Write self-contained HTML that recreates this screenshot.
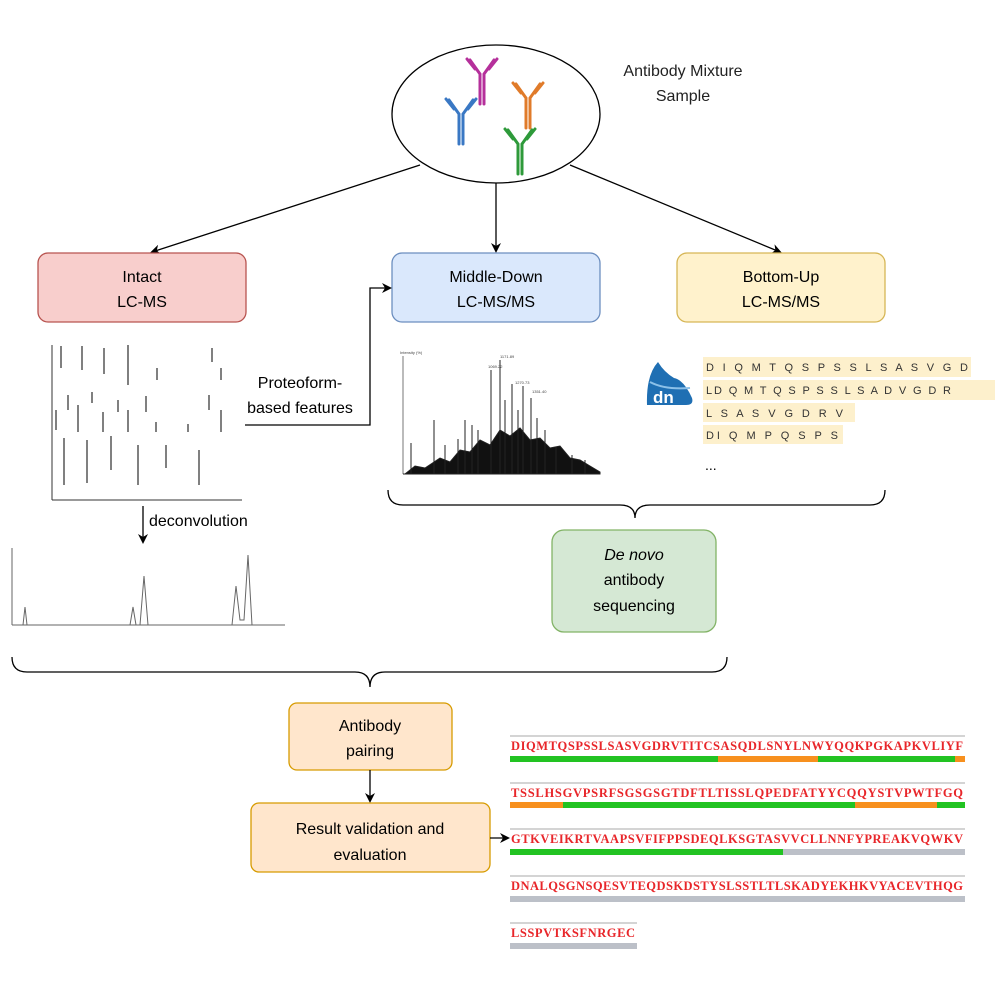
<!DOCTYPE html>
<html><head><meta charset="utf-8"><style>
html,body{margin:0;padding:0;background:#fff}
svg{display:block}
text{font-family:"Liberation Sans",Arial,sans-serif}
.seq{font-family:"Liberation Serif",serif;font-weight:bold;fill:#e8262a;font-size:12.5px}
</style></head><body>
<svg width="996" height="996" viewBox="0 0 996 996" xmlns="http://www.w3.org/2000/svg">
<defs>
<marker id="ah" markerWidth="10" markerHeight="10" refX="8" refY="5" orient="auto" markerUnits="userSpaceOnUse">
<path d="M0,0 L10,5 L0,10 L3,5 Z" fill="#000"/></marker>
<g id="ab" fill="none" stroke-width="3" stroke-linecap="round">
<path d="M-2,2 V32 M2,2 V32 M-2,2 L-12,-12 M2,2 L12,-12 M-7,-3 L-15,-13 M7,-3 L15,-13"/>
</g>
</defs>

<ellipse cx="496" cy="114" rx="104" ry="69" fill="#fff" stroke="#000" stroke-width="1.3"/>
<use href="#ab" transform="translate(482,72)" stroke="#b5309b"/>
<use href="#ab" transform="translate(528,96)" stroke="#e07b2a"/>
<use href="#ab" transform="translate(461,112)" stroke="#3a78c4"/>
<use href="#ab" transform="translate(520,142)" stroke="#2e9a3a"/>
<text x="683" y="76" font-size="16" text-anchor="middle" fill="#222">Antibody Mixture</text>
<text x="683" y="101" font-size="16" text-anchor="middle" fill="#222">Sample</text>

<line x1="420" y1="165" x2="152" y2="252" stroke="#000" stroke-width="1.3" marker-end="url(#ah)"/>
<line x1="496" y1="183" x2="496" y2="251" stroke="#000" stroke-width="1.3" marker-end="url(#ah)"/>
<line x1="570" y1="165" x2="780" y2="252" stroke="#000" stroke-width="1.3" marker-end="url(#ah)"/>

<rect x="38" y="253" width="208" height="69" rx="10" fill="#f8cecc" stroke="#b85450" stroke-width="1.3"/>
<text x="142" y="282" font-size="16" text-anchor="middle">Intact</text>
<text x="142" y="307" font-size="16" text-anchor="middle">LC-MS</text>
<rect x="392" y="253" width="208" height="69" rx="10" fill="#dae8fc" stroke="#6c8ebf" stroke-width="1.3"/>
<text x="496" y="282" font-size="16" text-anchor="middle">Middle-Down</text>
<text x="496" y="307" font-size="16" text-anchor="middle">LC-MS/MS</text>
<rect x="677" y="253" width="208" height="69" rx="10" fill="#fff2cc" stroke="#d6b656" stroke-width="1.3"/>
<text x="781" y="282" font-size="16" text-anchor="middle">Bottom-Up</text>
<text x="781" y="307" font-size="16" text-anchor="middle">LC-MS/MS</text>

<g stroke="#555" stroke-width="1.5">
<line x1="52" y1="345" x2="52" y2="500" stroke="#333" stroke-width="1"/>
<line x1="52" y1="500" x2="242" y2="500" stroke="#333" stroke-width="1"/>
<line x1="61" y1="346" x2="61" y2="368"/><line x1="82" y1="346" x2="82" y2="370"/><line x1="104" y1="348" x2="104" y2="374"/><line x1="128" y1="345" x2="128" y2="385"/>
<line x1="157" y1="368" x2="157" y2="380"/><line x1="212" y1="348" x2="212" y2="362"/><line x1="221" y1="368" x2="221" y2="380"/>
<line x1="68" y1="395" x2="68" y2="410"/><line x1="92" y1="392" x2="92" y2="403"/><line x1="118" y1="400" x2="118" y2="412"/><line x1="146" y1="396" x2="146" y2="412"/><line x1="209" y1="395" x2="209" y2="410"/>
<line x1="56" y1="410" x2="56" y2="430"/><line x1="78" y1="405" x2="78" y2="432"/><line x1="103" y1="412" x2="103" y2="432"/><line x1="128" y1="410" x2="128" y2="432"/><line x1="156" y1="422" x2="156" y2="432"/><line x1="188" y1="424" x2="188" y2="432"/><line x1="221" y1="410" x2="221" y2="432"/>
<line x1="64" y1="438" x2="64" y2="485"/><line x1="87" y1="440" x2="87" y2="483"/><line x1="111" y1="436" x2="111" y2="470"/><line x1="138" y1="445" x2="138" y2="485"/><line x1="166" y1="445" x2="166" y2="468"/><line x1="199" y1="450" x2="199" y2="485"/>
</g>

<path d="M245,425 H370 V288 H390" fill="none" stroke="#000" stroke-width="1.3" marker-end="url(#ah)"/>
<text x="300" y="388" font-size="16" text-anchor="middle">Proteoform-</text>
<text x="300" y="413" font-size="16" text-anchor="middle">based features</text>

<line x1="143" y1="506" x2="143" y2="542" stroke="#000" stroke-width="1.3" marker-end="url(#ah)"/>
<text x="149" y="526" font-size="16">deconvolution</text>

<g stroke="#666" stroke-width="1" fill="none">
<line x1="12" y1="548" x2="12" y2="625"/><line x1="12" y1="625" x2="285" y2="625"/>
<path d="M20,625 L23,625 L25,607 L27,625 Z"/>
<path d="M130,625 L133,607 L136,625 L140,625 L144,576 L148,625"/>
<path d="M232,625 L236,586 L240,620 L244,620 L248,555 L252,625"/>
</g>

<g stroke="#222" stroke-width="1">
<line x1="403" y1="356" x2="403" y2="474" stroke="#777"/>
<line x1="403" y1="474" x2="600" y2="474"/>
<polygon points="405,474 415,466 425,468 440,458 450,462 460,450 470,452 480,440 490,445 500,430 510,436 520,428 530,440 540,438 550,448 560,446 570,458 580,460 590,466 600,472 600,474" fill="#111"/>
<line x1="434" y1="420" x2="434" y2="474"/><line x1="411" y1="443" x2="411" y2="474"/><line x1="458" y1="439" x2="458" y2="474"/><line x1="465" y1="420" x2="465" y2="474"/><line x1="445" y1="445" x2="445" y2="474"/><line x1="472" y1="425" x2="472" y2="474"/><line x1="478" y1="430" x2="478" y2="474"/>
<line x1="491" y1="370" x2="491" y2="474"/><line x1="500" y1="360" x2="500" y2="474"/><line x1="505" y1="400" x2="505" y2="474"/><line x1="512" y1="384" x2="512" y2="474"/><line x1="523" y1="386" x2="523" y2="474"/><line x1="518" y1="410" x2="518" y2="474"/>
<line x1="531" y1="398" x2="531" y2="474"/><line x1="537" y1="418" x2="537" y2="474"/><line x1="545" y1="430" x2="545" y2="474"/><line x1="556" y1="447" x2="556" y2="474"/><line x1="572" y1="455" x2="572" y2="474"/><line x1="585" y1="460" x2="585" y2="474"/>
</g>
<g font-size="4" fill="#444"><text x="400" y="354">Intensity (%)</text><text x="488" y="368">1069.22</text><text x="500" y="358">1171.89</text><text x="515" y="384">1270.73</text><text x="532" y="393">1351.40</text></g>

<path d="M647,405 Q646,375 658,362 Q664,372 674,378 Q684,380 692,398 Q694,405 686,405 Z" fill="#1f6fb3"/>
<path d="M650,382 Q665,390 690,388" stroke="#8cc0e8" stroke-width="2" fill="none"/>
<text x="653" y="403" font-size="17" font-weight="bold" fill="#fff">dn</text>

<g>
<rect x="703" y="357" width="268" height="20" fill="#fdf0cc"/>
<rect x="703" y="380" width="292" height="20" fill="#fdf0cc"/>
<rect x="703" y="403" width="152" height="19" fill="#fdf0cc"/>
<rect x="703" y="425" width="140" height="19" fill="#fdf0cc"/>
<g font-family="Liberation Serif,serif" font-size="11" fill="#333">
<text x="706" y="371" textLength="262" lengthAdjust="spacing">D I Q M T Q S P S S L S A S V G D</text>
<text x="706" y="394" textLength="245" lengthAdjust="spacing">LD Q M T Q S P S S L S A D V G D R</text>
<text x="706" y="417" textLength="137" lengthAdjust="spacing">L S A S V G D R V</text>
<text x="706" y="439" textLength="132" lengthAdjust="spacing">DI Q M P Q S P S</text>
</g>
<text x="705" y="470" font-size="14">...</text>
</g>

<path d="M388,490 Q388,505 403,505 H620 Q635,505 635,518 Q635,505 650,505 H870 Q885,505 885,490" fill="none" stroke="#000" stroke-width="1.3"/>
<rect x="552" y="530" width="164" height="102" rx="12" fill="#d5e8d4" stroke="#82b366" stroke-width="1.3"/>
<text x="634" y="560" font-size="16" text-anchor="middle" font-style="italic">De novo</text>
<text x="634" y="585" font-size="16" text-anchor="middle">antibody</text>
<text x="634" y="611" font-size="16" text-anchor="middle">sequencing</text>

<path d="M12,657 Q12,672 27,672 H355 Q370,672 370,687 Q370,672 385,672 H712 Q727,672 727,657" fill="none" stroke="#000" stroke-width="1.3"/>

<rect x="289" y="703" width="163" height="67" rx="8" fill="#ffe6cc" stroke="#d79b00" stroke-width="1.3"/>
<text x="370" y="731" font-size="16" text-anchor="middle">Antibody</text>
<text x="370" y="756" font-size="16" text-anchor="middle">pairing</text>
<line x1="370" y1="770" x2="370" y2="801" stroke="#000" stroke-width="1.3" marker-end="url(#ah)"/>
<rect x="251" y="803" width="239" height="69" rx="8" fill="#ffe6cc" stroke="#d79b00" stroke-width="1.3"/>
<text x="370" y="834" font-size="16" text-anchor="middle">Result validation and</text>
<text x="370" y="860" font-size="16" text-anchor="middle">evaluation</text>
<line x1="490" y1="838" x2="508" y2="838" stroke="#000" stroke-width="1.3" marker-end="url(#ah)"/>

<g stroke="#aaa" stroke-width="1">
<line x1="510" y1="736" x2="965" y2="736"/><line x1="510" y1="783" x2="965" y2="783"/><line x1="510" y1="829" x2="965" y2="829"/><line x1="510" y1="876" x2="965" y2="876"/><line x1="510" y1="923" x2="637" y2="923"/>
</g>
<text class="seq" x="511" y="750" textLength="452" lengthAdjust="spacing">DIQMTQSPSSLSASVGDRVTITCSASQDLSNYLNWYQQKPGKAPKVLIYF</text>
<text class="seq" x="511" y="797" textLength="452" lengthAdjust="spacing">TSSLHSGVPSRFSGSGSGTDFTLTISSLQPEDFATYYCQQYSTVPWTFGQ</text>
<text class="seq" x="511" y="843" textLength="452" lengthAdjust="spacing">GTKVEIKRTVAAPSVFIFPPSDEQLKSGTASVVCLLNNFYPREAKVQWKV</text>
<text class="seq" x="511" y="890" textLength="452" lengthAdjust="spacing">DNALQSGNSQESVTEQDSKDSTYSLSSTLTLSKADYEKHKVYACEVTHQG</text>
<text class="seq" x="511" y="937" textLength="124" lengthAdjust="spacing">LSSPVTKSFNRGEC</text>
<g>
<rect x="510" y="756" width="208" height="6" fill="#22c322"/><rect x="718" y="756" width="100" height="6" fill="#f7901e"/><rect x="818" y="756" width="137" height="6" fill="#22c322"/><rect x="955" y="756" width="10" height="6" fill="#f7901e"/>
<rect x="510" y="802" width="53" height="6" fill="#f7901e"/><rect x="563" y="802" width="292" height="6" fill="#22c322"/><rect x="855" y="802" width="82" height="6" fill="#f7901e"/><rect x="937" y="802" width="28" height="6" fill="#22c322"/>
<rect x="510" y="849" width="273" height="6" fill="#22c322"/><rect x="783" y="849" width="182" height="6" fill="#bcc0c8"/>
<rect x="510" y="896" width="455" height="6" fill="#bcc0c8"/>
<rect x="510" y="943" width="127" height="6" fill="#bcc0c8"/>
</g>
</svg>
</body></html>
